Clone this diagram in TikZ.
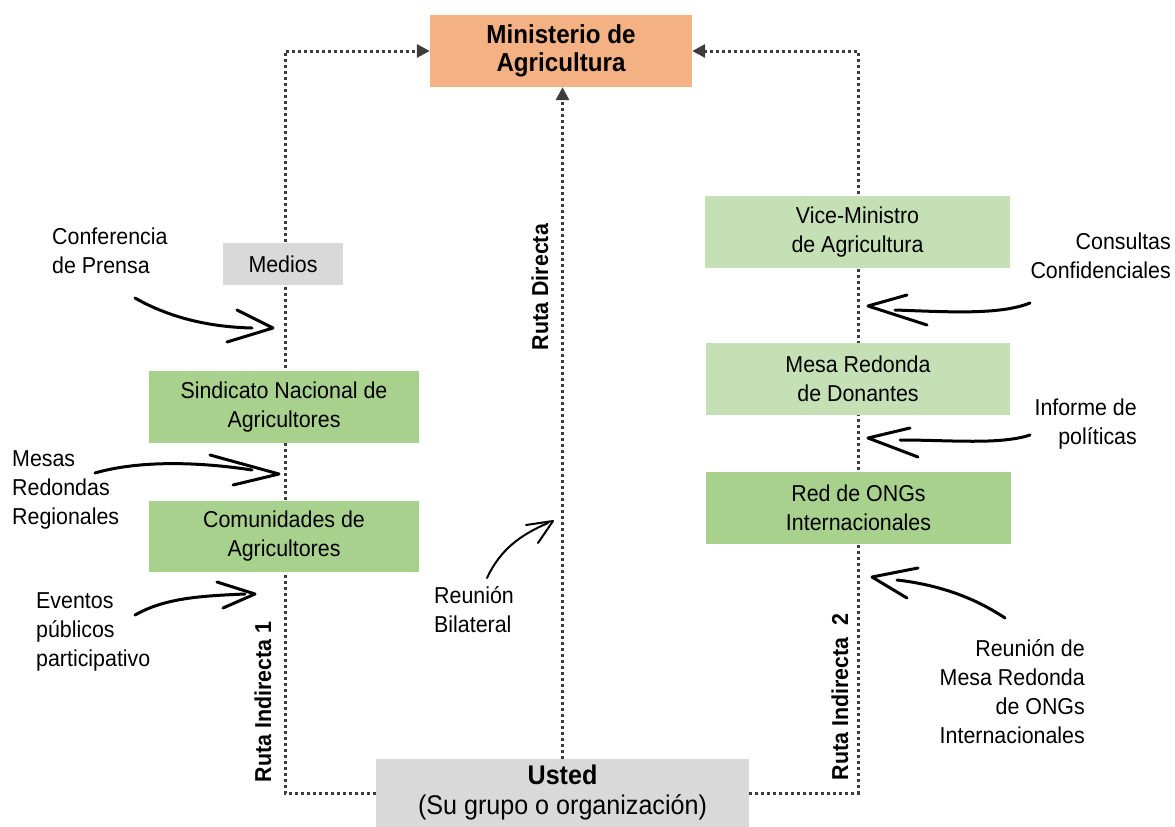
\documentclass[tikz,border=0pt]{standalone}
\usepackage{fontspec}
\setmainfont{Liberation Sans}[FakeStretch=0.93]
\usetikzlibrary{arrows.meta}
\definecolor{minorange}{HTML}{F4B183}
\definecolor{greendark}{HTML}{A9D18E}
\definecolor{greenlight}{HTML}{C5E0B4}
\definecolor{boxgray}{HTML}{D9D9D9}
\definecolor{routegray}{HTML}{3C3C3C}
\tikzset{
  box/.style={inner sep=0pt, align=center, font=\fontsize{23}{29}\selectfont},
  route/.style={draw=routegray, line width=3pt, dash pattern=on 3pt off 3pt},
  routetip/.style={-{Triangle[length=13pt,width=13pt]}},
  label/.style={inner sep=0pt, font=\fontsize{23}{29}\selectfont},
  routelabel/.style={inner sep=0pt, rotate=90, font=\fontsize{23}{29}\selectfont\bfseries},
  hand/.style={draw=black, line width=3pt, line cap=round, line join=round},
}
\begin{document}
\begin{tikzpicture}[x=1pt, y=-1pt]
\useasboundingbox (0,0) rectangle (1175,827);

% corners of the two indirect routes
\coordinate (Lcorner) at (285,51);
\coordinate (Rcorner) at (858,51);

% the two end boxes, placed first so the routes can start from them
\path (561,51) node[box, minimum width=262pt, minimum height=72pt] (min) {};
\path (562.5,793) node[box, minimum width=373pt, minimum height=68pt] (usted) {};

% dotted routes
\draw[route, routetip] (usted.west) -| (Lcorner) -- (min.west);
\draw[route, routetip] (usted.east) -| (Rcorner) -- (min.east);
\draw[route, routetip] (usted.north) -- (usted.north |- min.south);

% boxes
\node[box, fill=minorange, minimum width=262pt, minimum height=72pt,
      font=\fontsize{26}{28}\selectfont\bfseries] at (min) (minT) {Ministerio de\\Agricultura};
\node[box, fill=boxgray, minimum width=373pt, minimum height=68pt,
      font=\fontsize{27}{30}\selectfont] at (usted) (ustedT) {\textbf{Usted}\\(Su grupo o organización)};
\node[box, fill=boxgray, minimum width=120pt, minimum height=42pt] at (283,264) (medios) {Medios};
\node[box, fill=greendark, minimum width=270pt, minimum height=72pt] at (284,407) (sind) {Sindicato Nacional de\\Agricultores};
\node[box, fill=greendark, minimum width=270pt, minimum height=71pt] at (284,536.5) (comu) {Comunidades de\\Agricultores};
\node[box, fill=greenlight, minimum width=305pt, minimum height=72pt] at (857.5,232) (vice) {Vice-Ministro\\de Agricultura};
\node[box, fill=greenlight, minimum width=304pt, minimum height=72pt] at (858,379) (donan) {Mesa Redonda\\de Donantes};
\node[box, fill=greendark, minimum width=305pt, minimum height=72pt] at (858.5,508) (ongs) {Red de ONGs\\Internacionales};

% route labels
\node[routelabel] at (540,287) (rdir) {Ruta Directa};
\node[routelabel] at (263,702) (rind1) {Ruta Indirecta 1};
\node[routelabel] at (840,697) (rind2) {Ruta Indirecta\ \ 2};

% channel labels
\node[label, align=left, anchor=west] at (52,251) (conf) {Conferencia\\de Prensa};
\node[label, align=left, anchor=west] at (12,490) (mesas) {Mesas\\Redondas\\Regionales};
\node[label, align=left, anchor=west] at (36,632) (event) {Eventos\\públicos\\participativo};
\node[label, align=left, anchor=west] at (434,610) (bilat) {Reunión\\Bilateral};
\node[label, align=right, anchor=east] at (1171,256) (consu) {Consultas\\Confidenciales};
\node[label, align=right, anchor=east] at (1137,424) (inform) {Informe de\\políticas};
\node[label, align=right, anchor=east] at (1085,692) (reun) {Reunión de\\Mesa Redonda\\de ONGs\\Internacionales};

% hand-drawn arrows: tail, tip and the two barb ends
\coordinate (a1t) at (135,298); \coordinate (a1p) at (273,328);
\coordinate (a1u) at (237,310); \coordinate (a1l) at (227,342);
\draw[hand] (a1t) .. controls (170,318) and (210,327) .. (252,328);
\draw[hand] (a1u) -- (a1p) -- (a1l);

\coordinate (a2t) at (95,473); \coordinate (a2p) at (279,474);
\coordinate (a2u) at (210,455); \coordinate (a2l) at (233,485);
\draw[hand] (a2t) .. controls (140,460) and (200,462) .. (252,470);
\draw[hand] (a2u) -- (a2p) -- (a2l);

\coordinate (a3t) at (135,615); \coordinate (a3p) at (255,594);
\coordinate (a3u) at (217,582); \coordinate (a3l) at (223,608);
\draw[hand] (a3t) .. controls (165,598) and (200,596) .. (245,594);
\draw[hand] (a3u) -- (a3p) -- (a3l);

\coordinate (a4t) at (487,578); \coordinate (a4p) at (553,521);
\coordinate (a4u) at (526,525); \coordinate (a4l) at (538,543);
\draw[hand, line width=2pt] (a4t) .. controls (500,550) and (520,535) .. (548,523);
\draw[hand, line width=2pt] (a4u) -- (a4p) -- (a4l);

\coordinate (a5t) at (1030,303); \coordinate (a5p) at (868,306);
\coordinate (a5u) at (907,295); \coordinate (a5l) at (927,325);
\draw[hand] (a5t) .. controls (1000,315) and (950,312) .. (895,310);
\draw[hand] (a5u) -- (a5p) -- (a5l);

\coordinate (a6t) at (1030,435); \coordinate (a6p) at (868,438);
\coordinate (a6u) at (910,428); \coordinate (a6l) at (918,457);
\draw[hand] (a6t) .. controls (1000,445) and (950,440) .. (900,440);
\draw[hand] (a6u) -- (a6p) -- (a6l);

\coordinate (a7t) at (1005,618); \coordinate (a7p) at (872,577);
\coordinate (a7u) at (918,568); \coordinate (a7l) at (907,598);
\draw[hand] (a7t) .. controls (975,598) and (940,585) .. (897,580);
\draw[hand] (a7u) -- (a7p) -- (a7l);
\end{tikzpicture}
\end{document}
